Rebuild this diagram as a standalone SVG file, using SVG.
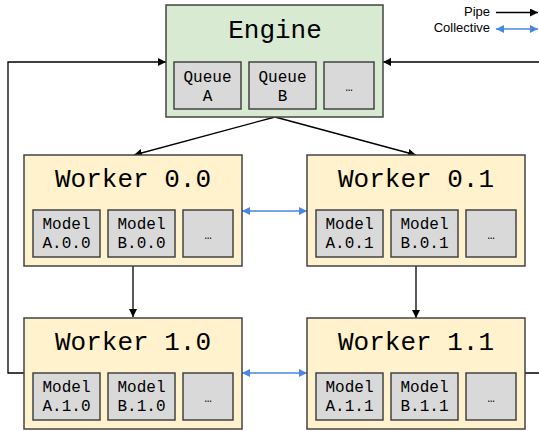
<svg xmlns="http://www.w3.org/2000/svg" width="539" height="431" viewBox="0 0 539 431">
<defs>
<marker id="ah" viewBox="0 0 10 10" refX="10" refY="5" markerWidth="8" markerHeight="8" markerUnits="userSpaceOnUse" orient="auto"><path d="M0,0 L10,5 L0,10 z" fill="#000"/></marker>
<marker id="bh" viewBox="0 0 10 10" refX="10" refY="5" markerWidth="8" markerHeight="8" markerUnits="userSpaceOnUse" orient="auto-start-reverse"><path d="M0,0 L10,5 L0,10 z" fill="#4a86e8"/></marker>
</defs>
<style>
.eng{fill:#d9ead3;stroke:#434343;stroke-width:1.5}
.wrk{fill:#fff2cc;stroke:#434343;stroke-width:1.5}
.in{fill:#d9d9d9;stroke:#434343;stroke-width:1.5}
.t{font-family:"Liberation Mono",monospace;font-size:26px;fill:#000;text-anchor:middle}
.s{font-family:"Liberation Mono",monospace;font-size:16px;fill:#000;text-anchor:middle}
.d{font-family:"Liberation Mono",monospace;font-size:12px;fill:#000;text-anchor:middle}
.l{font-family:"Liberation Sans",Arial,sans-serif;font-size:13px;fill:#000;text-anchor:end}
.p{fill:none;stroke:#000;stroke-width:1.3}
.c{fill:none;stroke:#4a86e8;stroke-width:1.5}
</style>
<g id="connectors">
<path class="p" d="M275,117 L134,155" marker-end="url(#ah)"/>
<path class="p" d="M275,117 L416,155" marker-end="url(#ah)"/>
<path class="p" d="M133,266 L133,317" marker-end="url(#ah)"/>
<path class="p" d="M416,266 L416,318" marker-end="url(#ah)"/>
<path class="c" d="M242,211 L307,211" marker-start="url(#bh)" marker-end="url(#bh)"/>
<path class="c" d="M242,373 L307,373" marker-start="url(#bh)" marker-end="url(#bh)"/>
<path class="p" d="M24,373 L8,373 L8,62 L166,62" marker-end="url(#ah)"/>
<path class="p" d="M524,373 L545,373 L545,62 L383,62" marker-end="url(#ah)"/>
</g>
<g id="legend">
<text class="l" x="490" y="16">Pipe</text>
<path class="p" d="M496,12.5 L538,12.5" marker-end="url(#ah)"/>
<text class="l" x="490" y="32">Collective</text>
<path class="c" d="M496,29 L538,29" marker-start="url(#bh)" marker-end="url(#bh)"/>
</g>
<g id="engine">
<rect class="eng" x="166" y="5" width="217" height="112"/>
<text class="t" x="275" y="38">Engine</text>
<rect class="in" x="174" y="62" width="67" height="47"/>
<text class="s" x="207.5" y="82">Queue</text><text class="s" x="207.5" y="101">A</text>
<rect class="in" x="249" y="62" width="67" height="47"/>
<text class="s" x="282.5" y="82">Queue</text><text class="s" x="282.5" y="101">B</text>
<rect class="in" x="324" y="62" width="50" height="47"/>
<text class="d" x="349" y="91">…</text>
</g>
<g id="worker00">
<rect class="wrk" x="24" y="155" width="218" height="111"/>
<text class="t" x="133" y="187">Worker 0.0</text>
<rect class="in" x="33" y="210" width="67" height="47"/>
<text class="s" x="66.5" y="229">Model</text><text class="s" x="66.5" y="248">A.0.0</text>
<rect class="in" x="108" y="210" width="67" height="47"/>
<text class="s" x="141.5" y="229">Model</text><text class="s" x="141.5" y="248">B.0.0</text>
<rect class="in" x="183" y="210" width="50" height="47"/>
<text class="d" x="208" y="239">…</text>
</g>
<g id="worker01">
<rect class="wrk" x="307" y="155" width="218" height="111"/>
<text class="t" x="416" y="187">Worker 0.1</text>
<rect class="in" x="316" y="210" width="67" height="47"/>
<text class="s" x="349.5" y="229">Model</text><text class="s" x="349.5" y="248">A.0.1</text>
<rect class="in" x="391" y="210" width="67" height="47"/>
<text class="s" x="424.5" y="229">Model</text><text class="s" x="424.5" y="248">B.0.1</text>
<rect class="in" x="466" y="210" width="50" height="47"/>
<text class="d" x="491" y="239">…</text>
</g>
<g id="worker10">
<rect class="wrk" x="24" y="318" width="218" height="111"/>
<text class="t" x="133" y="350">Worker 1.0</text>
<rect class="in" x="33" y="373" width="67" height="47"/>
<text class="s" x="66.5" y="392">Model</text><text class="s" x="66.5" y="411">A.1.0</text>
<rect class="in" x="108" y="373" width="67" height="47"/>
<text class="s" x="141.5" y="392">Model</text><text class="s" x="141.5" y="411">B.1.0</text>
<rect class="in" x="183" y="373" width="50" height="47"/>
<text class="d" x="208" y="402">…</text>
</g>
<g id="worker11">
<rect class="wrk" x="307" y="318" width="218" height="111"/>
<text class="t" x="416" y="350">Worker 1.1</text>
<rect class="in" x="316" y="373" width="67" height="47"/>
<text class="s" x="349.5" y="392">Model</text><text class="s" x="349.5" y="411">A.1.1</text>
<rect class="in" x="391" y="373" width="67" height="47"/>
<text class="s" x="424.5" y="392">Model</text><text class="s" x="424.5" y="411">B.1.1</text>
<rect class="in" x="466" y="373" width="50" height="47"/>
<text class="d" x="491" y="402">…</text>
</g>
</svg>
